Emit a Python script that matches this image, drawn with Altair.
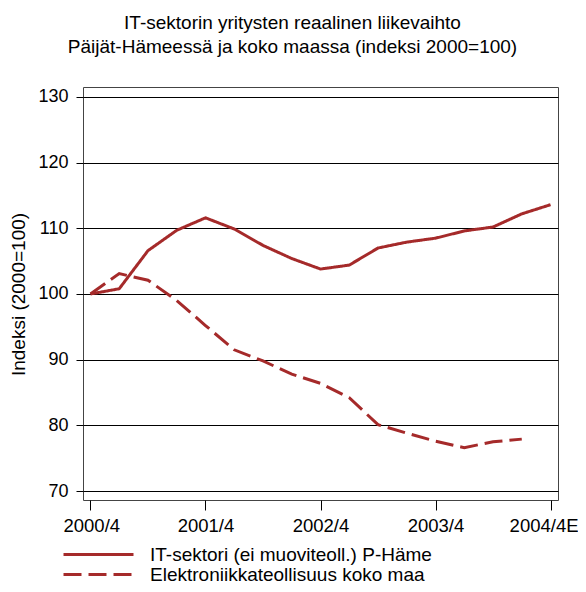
import altair as alt
import pandas as pd

quarters = ["2000/4", "2001/1", "2001/2", "2001/3", "2001/4", "2002/1", "2002/2", "2002/3",
            "2002/4", "2003/1", "2003/2", "2003/3", "2003/4", "2004/1", "2004/2", "2004/3", "2004/4E"]
tick_labels = ["2000/4", "2001/4", "2002/4", "2003/4", "2004/4E"]
series_names = ["IT-sektori (ei muoviteoll.) P-Häme", "Elektroniikkateollisuus koko maa"]
it_values = [100, 100.8, 106.6, 109.7, 111.6, 109.9, 107.4, 105.4, 103.8, 104.4,
             107.0, 107.9, 108.5, 109.6, 110.2, 112.2, 113.6]
el_values = [100, 103.1, 102.1, 99.0, 95.2, 91.5, 89.8, 87.8, 86.4, 84.2,
             80.1, 78.8, 77.6, 76.6, 77.5, 77.9]
y_ticks = [70, 80, 90, 100, 110, 120, 130]

rows = []
for q, v in zip(quarters, it_values):
    rows.append({"quarter": q, "value": v, "series": series_names[0]})
for q, v in zip(quarters, el_values):
    rows.append({"quarter": q, "value": v, "series": series_names[1]})
df = pd.DataFrame(rows)

COLOR = "#A52A2A"
FONT = "Liberation Sans"

chart = alt.Chart(df).mark_line(color=COLOR, strokeWidth=3).encode(
    x=alt.X("quarter:O", sort=quarters,
            scale=alt.Scale(type="point", padding=0.26),
            axis=alt.Axis(values=tick_labels, labelAngle=0, title=None, domain=False,
                          grid=False, tickSize=10, tickColor="black", labelPadding=6,
                          labelFlush=12, labelFlushOffset=27.5,
                          labelFontSize=18.5, labelFont=FONT, labelColor="black")),
    y=alt.Y("value:Q",
            scale=alt.Scale(domain=[68.63, 131.52], nice=False, zero=False),
            axis=alt.Axis(values=y_ticks, title="Indeksi (2000=100)", domain=False,
                          grid=True, gridColor="black", gridWidth=1, gridOpacity=1,
                          tickSize=7, tickColor="black", labelPadding=8,
                          labelFontSize=18, labelFont=FONT, labelColor="black",
                          titleFontSize=19, titleFont=FONT, titleFontWeight="normal",
                          titleColor="black", titleX=-65, titleY=207, titleAngle=270,
                          titleAlign="center", titleBaseline="middle")),
    strokeDash=alt.StrokeDash("series:N",
                              scale=alt.Scale(domain=series_names, range=[[1, 0], [18, 7]]),
                              legend=alt.Legend(title=None, orient="none", legendX=-21, legendY=458,
                                                symbolType="stroke", symbolSize=4900,
                                                symbolStrokeWidth=3, symbolStrokeColor=COLOR,
                                                labelFontSize=19, labelFont=FONT, labelColor="black",
                                                labelLimit=500,
                                                clipHeight=19, rowPadding=0, labelOffset=15)),
).properties(
    width=475,
    height=413,
    title=alt.TitleParams(
        text=["IT-sektorin yritysten reaalinen liikevaihto",
              "Päijät-Hämeessä ja koko maassa (indeksi 2000=100)"],
        fontSize=19, font=FONT, fontWeight="normal", color="black",
        anchor="middle", frame="group", dx=-28, offset=30, lineHeight=24),
    autosize=alt.AutoSizeParams(type="none"),
    padding={"left": 75, "top": 79, "right": 20, "bottom": 84},
).configure_view(stroke="#444", strokeWidth=1)

chart.save("out.html", embed_options={"renderer": "svg", "actions": False})
